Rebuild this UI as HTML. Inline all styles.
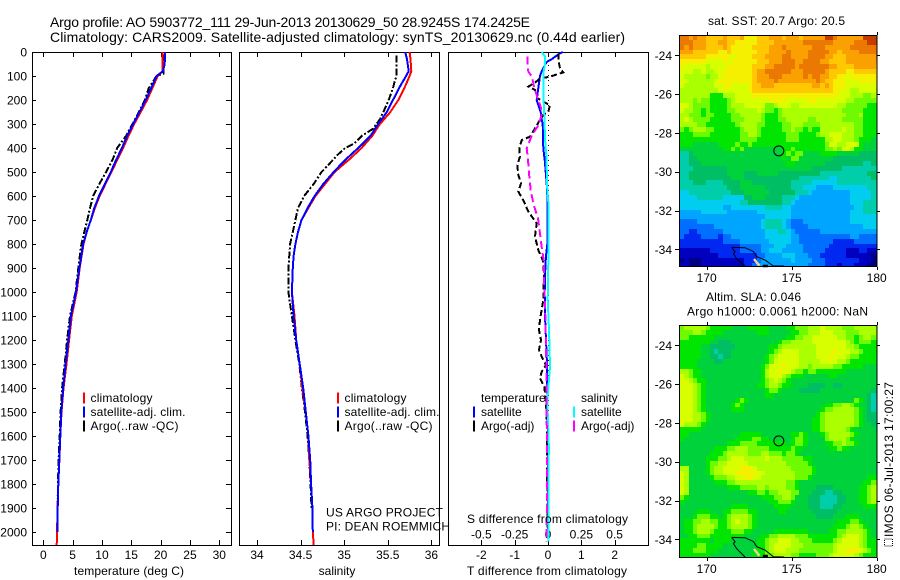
<!DOCTYPE html>
<html lang="en">
<head>
<meta charset="utf-8">
<title>Argo profile 5903772_111</title>
<style>
html,body{margin:0;padding:0;background:#fff;width:900px;height:580px;overflow:hidden}
svg{display:block}
text{font-family:"Liberation Sans",sans-serif;font-size:12px;fill:#000}
.title{font-size:14px}
</style>
</head>
<body>
<svg id="chart" xmlns="http://www.w3.org/2000/svg" width="900" height="580" viewBox="0 0 900 580">
<rect x="0" y="0" width="900" height="580" fill="#fff"/>
<text class="title" x="50" y="27" textLength="480" lengthAdjust="spacing">Argo profile: AO 5903772_111 29-Jun-2013 20130629_50 28.9245S 174.2425E</text>
<text class="title" x="50" y="42" textLength="575" lengthAdjust="spacing">Climatology: CARS2009. Satellite-adjusted climatology: synTS_20130629.nc (0.44d earlier)</text>
<g id="maps"></g>
<g id="profiles"></g>
<text x="708" y="25" textLength="137" lengthAdjust="spacing">sat. SST: 20.7 Argo: 20.5</text>
<text x="706" y="301" textLength="95" lengthAdjust="spacing">Altim. SLA: 0.046</text>
<text x="687" y="315.5" textLength="181" lengthAdjust="spacing">Argo h1000: 0.0061 h2000: NaN</text>
<text transform="translate(893,537) rotate(-90)" textLength="155" lengthAdjust="spacing">IMOS 06-Jul-2013 17:00:27</text>
<rect x="884.5" y="539" width="8" height="7" fill="none" stroke="#000" stroke-width="1" stroke-dasharray="1,1"/>
<text x="129" y="575" text-anchor="middle" textLength="110" lengthAdjust="spacing">temperature (deg C)</text>
<text x="337" y="575" text-anchor="middle">salinity</text>
<text x="547" y="575" text-anchor="middle" textLength="160" lengthAdjust="spacing">T difference from climatology</text>
<text x="547.5" y="523" text-anchor="middle" textLength="161" lengthAdjust="spacing">S difference from climatology</text>
<text x="326" y="516.5" textLength="117" lengthAdjust="spacing">US ARGO PROJECT</text>
<text x="326" y="530.5" textLength="124" lengthAdjust="spacing">PI: DEAN ROEMMICH</text>
</svg>
<script>
// ---------- profile data (depth in dbar) ----------
var tempDepths = [0,50,80,100,150,200,250,300,350,400,450,500,550,600,650,700,750,800,900,1000,1100,1200,1300,1400,1500,1600,1700,1800,1900,2000,2054];
var tempClim   = [20.35,20.35,20.3,19.5,18.6,17.7,16.6,15.5,14.5,13.6,12.6,11.6,10.6,9.6,8.8,8.1,7.4,6.85,6.2,5.7,4.85,4.4,3.95,3.45,3.1,2.9,2.75,2.55,2.42,2.35,2.28];
var tempSat    = [20.74,20.7,20.4,19.3,18.4,17.45,16.4,15.3,14.3,13.4,12.4,11.5,10.5,9.5,8.7,8.1,7.4,6.8,6.15,5.57,4.7,4.27,3.8,3.4,3.07,2.9,2.73,2.56,2.45,2.39];
var tempArgoDepths = [10,50,90,100,150,200,250,300,350,400,450,500,550,600,650,700,800,900,1000,1100,1200,1300,1400,1500,1600,1700,1800,1860];
var tempArgo   = [20.4,20.4,20.5,19.3,18.0,17.3,16.3,15.2,14.1,12.6,11.8,10.7,9.55,8.5,7.96,7.5,6.5,5.97,5.5,4.55,4.05,3.65,3.2,2.95,2.8,2.6,2.5,2.45];

var salDepths = [0,30,80,100,150,200,250,300,350,400,450,500,550,600,650,700,750,800,850,900,1000,1100,1200,1300,1400,1500,1600,1700,1800,1900,2000,2054];
var salClim   = [35.75,35.76,35.77,35.75,35.69,35.62,35.53,35.41,35.32,35.2,35.05,34.89,34.78,34.67,34.59,34.51,34.47,34.44,34.42,34.41,34.4,34.43,34.45,34.49,34.52,34.56,34.59,34.6,34.62,34.635,34.64,34.65];
var salSat    = [35.7,35.72,35.74,35.71,35.63,35.56,35.49,35.39,35.3,35.16,35.01,34.88,34.76,34.66,34.58,34.51,34.47,34.44,34.42,34.41,34.4,34.42,34.45,34.49,34.53,34.56,34.59,34.61,34.62,34.635,34.64];
var salArgoDepths = [15,100,120,150,200,250,280,320,350,380,400,430,470,500,550,600,650,700,750,800,900,1000,1050,1100,1200,1300,1400,1500,1600,1700,1800,1900];
var salArgo   = [35.6,35.6,35.58,35.56,35.51,35.45,35.41,35.33,35.2,35.12,35.01,34.92,34.82,34.74,34.65,34.54,34.47,34.44,34.41,34.38,34.36,34.36,34.38,34.4,34.44,34.485,34.515,34.55,34.58,34.6,34.615,34.625];

var diffTSatDepths = [0,10,30,40,50,80,100,150,200,220,250,280,300,400,450,500,550,600,800,850,900,1000,1100,1200,1300,1400,1500,1700,2000];
var diffTSat       = [0.44,0.31,0.11,-0.02,-0.08,-0.19,-0.24,-0.29,-0.34,-0.29,-0.22,-0.19,-0.16,-0.14,-0.1,-0.07,-0.04,-0.02,-0.02,-0.06,-0.08,-0.1,-0.09,-0.06,-0.03,-0.02,-0.01,0,0];
var diffTArgoDepths = [6,33,68,85,96,103,110,128,144,158,193,207,221,249,262,283,318,353,367,401,436,471,512,547,582,617,665,714,769,825,867,922,1033,1116,1158,1200,1241,1269,1304,1332,1359,1394,1464,1519,2000];
var diffTArgo       = [0.31,0.31,0.36,0.46,0.21,0.06,-0.24,-0.39,-0.59,-0.39,-0.31,-0.14,0.06,0.01,-0.14,-0.24,-0.39,-0.54,-0.79,-0.86,-0.84,-0.92,-0.89,-0.81,-0.89,-0.74,-0.59,-0.34,-0.39,-0.29,-0.16,-0.12,-0.14,-0.24,-0.27,-0.21,-0.27,-0.19,-0.06,-0.19,-0.24,-0.11,-0.06,-0.04,-0.01];
var diffSSatDepths = [0,19,47,89,186,228,367,436,575,644,850,1030,1170,1310,1350,1450,1650,1770,2040];
var diffSSat       = [-0.048,-0.022,-0.022,-0.035,-0.035,-0.03,-0.022,-0.012,-0.005,0.005,0.003,-0.002,0.008,0.015,0.01,-0.005,0.007,0.002,0.002];
var diffSArgoDepths = [19,54,82,103,144,193,228,262,304,346,401,450,519,575,631,693,756,811,867,978,1100,1300,1500,1700,2040];
var diffSArgo       = [-0.155,-0.155,-0.147,-0.12,-0.105,-0.078,-0.055,-0.048,-0.07,-0.12,-0.16,-0.15,-0.14,-0.13,-0.11,-0.075,-0.06,-0.048,-0.032,-0.028,-0.02,-0.012,-0.01,-0.008,-0.01];

// ---------- tick labels ----------
var depthTicks = [0,100,200,300,400,500,600,700,800,900,1000,1100,1200,1300,1400,1500,1600,1700,1800,1900,2000];
var tempTicks = [0,5,10,15,20,25,30];
var salTicks = [34,34.5,35,35.5,36];
var diffTTicks = [-2,-1,0,1,2];
var diffSTicks = [-0.5,-0.25,0,0.25,0.5];
var lonTicks = [170,175,180];
var latTicks = [-24,-26,-28,-30,-32,-34];

// ---------- map grids: one character per 0.25 degree cell, colour class from mapLevels ----------
var mapLevels = "0123456789abcdefgh";
var mapColours = ["#000082","#0000be","#0028f0","#006eff","#00a5ff","#00cdf0","#00cdaa","#00be64","#00d23c","#00e600","#6efa00","#aaff00","#d7ff00","#f5f000","#ffc800","#faa000","#eb7800","#c83c00"];
var sstGrid = [
"ggfgffeeee feeefdddee efffefffef ffffhhgfff fffhhhh",
"gggfffeeef feedddddee eefffffffg ggggggffff fggghhh",
"gfgfffeeee fedddddeee efffgfffff fgggffffff ggggggg",
"fffeeeeeed deddddddee effffgffff gggggffeff ffggggg",
"eeeeeedddd ddcddddeee ffffggffff ggggffeeef ffffffg",
"ddddddcccc dcddddddee efffgggffg gggffeeeef fffffff",
"dcccccbccc cddddddeee ffgggggfgg gggggffeee efffffe",
"cccbbcbbcc dddddddeff ggggggfffg ggggfeeeed deeeeed",
"cbbbbbabbc dddddddeff fgggfffffg fggffeeddc ddddddd",
"ccbbbbbbcd dddddddeff ffgfffffff ffgfeedddc ccddddd",
"cbbbbbbbcc ddccccdeef ffeeeeeeee effefedddc ccccccc",
"bbbbbbbbbc ccccccdeee eeeeeeeeee eeeeeeddcc bbccccb",
"bbbbbbb999 bbbccccddd dddddddddd dddddddccc bbbaabb",
"bbbabaa999 9abccccccc cddddccccc ddcccccccb baaaaab",
"ccbaaaa999 9abbbccccc aabcccbbcc cccccccbba aaaa999",
"cbbaa9a999 9aabbbbbcb aa9abbbbbb bbbbbbbbaa aaa9999",
"bbaaa9aa99 99aabbbbba 999abbbbbb bbbbbbbbba aab9999",
"bcbaaaa999 99aaabbbba 999aabbbbb aabbbbbbaa aaa9999",
"bbbbaa9999 999abbbbaa 9999aabbba aaabbbbbbb baa9999",
"a9abbbaa99 9999abbba9 9999aabaa9 a99bbbbbcb baa9999",
"999aaaa999 9999aabba9 99999aaa99 99abbcccbb baa9998",
"9999999999 9999aaaa99 99999aaa99 9999bbccbb ba99988",
"9998888889 999a99a999 9999999999 9999accbbc cc98888",
"8888888888 99a9a88888 888899a999 9999aabacc b998887",
"6678888888 8888888888 88889a9aa8 8889999888 8877777",
"6677888888 8888888888 888898aa88 8888887777 7777777",
"6677788888 8888888888 8888899888 8888777777 7776677",
"6667777777 7888888888 8888888888 8777777766 6666666",
"6677777777 7888877788 8887777777 7776666666 6666776",
"6677777777 7788877777 7777777766 6666655666 6666677",
"6667776666 7777888777 7777776666 6555555666 6666666",
"6666666666 6777888888 7777776665 5544445555 5555666",
"5566666666 6677788888 8777777666 5444444444 5555566",
"5555666666 5555577888 7777666544 4444444444 5555566",
"5555555555 5555667777 7777665444 4444444444 5556666",
"5555555555 4455555555 6666554444 4444444444 4556666",
"4444455555 5444444455 5555554444 4444444444 5556666",
"4444444444 4444444444 5555554444 4444444444 5555556",
"3333444444 4444444445 6666543334 4444444444 5555555",
"3333333344 4444444445 6666543333 4444444444 4445555",
"3322333333 4444444444 5556654333 3334444444 4444444",
"3222233332 3344444444 5555554433 3333333333 4433333",
"2222222222 3333444444 4555554433 3333332222 2333333",
"2222222222 2222333334 4455544443 3333322222 2222222",
"1111111222 2222333334 4555444443 3333222221 1122111",
"1111111112 2222222233 4444555444 3332222221 1111100",
"0100011111 1111122234 4444445444 4333222222 2211100",
"1100011111 1111122344 4444444444 3333222122 2111000"
];
var slaGrid = [
"abbbbba999 9988889999 9888899aaa bbbcbbbbaa abbbbba",
"aaabba9999 8888888899 98888899aa bbbcccbbba aabbbba",
"aa99999988 8888888888 8888899aab bccccccbba a9abbaa",
"9999999887 7788888888 8889aabbbb bccccccccb a9aaa99",
"9999988777 7778888888 899abbbbbb bbcccccccb ba99999",
"9999988767 7788888888 89abccccbb bbccccdccc bba9999",
"9999988776 7788888888 9abcccccbb bbcccdcccb aa99999",
"9999888877 8888888888 9accccccbb bbbccccbba 9999998",
"9999888888 8888888889 acccdcccbb abbbbbaa99 9998888",
"bba9988888 8888888889 bccdccbaa9 aa99999998 8888888",
"cba9988888 8888888889 bcccba9998 8888899888 8888887",
"ccba998888 8888888889 abcba98888 8888888888 8888888",
"cccba98888 8888888899 abba998888 7777887788 8888887",
"cccba98888 8888888888 9aa9888877 7778888888 8888877",
"cccba98888 8888888888 9988888888 8888888888 8888767",
"cccba98888 8889a98888 8888888888 8888888888 8a98766",
"cccba98888 889a988888 8888888888 888899aabb a988766",
"cccba98888 8899988888 8888888888 8889aabbbb ba98766",
"cccbba9888 8888888888 8888888888 889abbbbbb ba98776",
"cccbba9888 8888888888 8888888888 899abbbbbb ba98776",
"cbbba98888 8888888888 8888888888 899abbbbbb ba98877",
"9999988888 8888888888 8888888888 899abbbbba 9888887",
"9988888888 8888999998 88888899a9 8889abbbbb a988888",
"9888888888 8889999aa9 9888889aa9 8888abbbba 9888888",
"8888888888 8999aaaa99 9999989aa9 888899aaba a988888",
"8888888899 9aabbbaaaa a99999a998 8888899a99 8888888",
"8888888999 abbbbbaaab baaa9aa988 8888888888 8888888",
"888888999a abcccbbbbb cbbbaaaaa9 9888888888 8888888",
"8888889aab bcccccbbbb bbbbbaaaaa 9888888888 8888888",
"bb88889abb ccccdddcbb bbbbbbaaaa a988888888 8888888",
"cb88889abb cccdddddcc bbbbbbbaaa a988888888 8888888",
"cb888889aa abbccddccb bbbbbbbaaa 9888888888 8888999",
"cb88888899 9aabbbbbbb bbbbbaa988 8888888888 88899aa",
"cb88888888 8999aaaabb abbbbaa988 8877778888 8899abc",
"cb88888888 88888899aa 9aabbbaa88 8777667788 8899abc",
"a988888888 8888888889 99aabba888 7776666778 8899abc",
"9888888888 8888888888 899aaa9888 7776666778 8899aba",
"8888888888 8899998888 8899998888 7776667788 8889999",
"8888999888 99aaaa9988 8889988888 8777777888 8888888",
"8889aaa998 9abbbba988 8888888888 8877778889 9988888",
"899aabbaa9 9abcbba988 8888888888 8888888999 aa98888",
"899abbbba9 9abbbba988 8888888888 888888999a bba9888",
"899abbba99 99aaa99888 8899999999 8888899aab bbba988",
"8899aaa999 9999988889 9aabbbbaaa 9999999abc ccba988",
"9999999899 9988888899 abbcccbbaa a99999abcc ccba999",
"9999aa9999 8888888899 abccccbbba aaaaaabccc ccba999",
"999aaa9998 8888888899 abcccbbbaa aaaaaabccd ddcba99",
"9999999888 8888888999 aabbbbaa99 99aaabcccc cba9999"
];

// ---------- coastline (lon, lat) ----------
var coastALon = [171.47,171.67,171.57,171.76,172.25];
var coastALat = [-33.9,-34.13,-34.22,-34.48,-34.91];
var coastBLon = [171.47,172.25,172.75,172.94,173.43,173.92,174.55];
var coastBLat = [-33.9,-33.92,-34.12,-34.38,-34.55,-34.9,-34.92];
var landLon = [172.78,172.95,173.1];
var landLat = [-34.5,-34.68,-34.85];
var islandLon = [173.3,173.6];
var islandLat = [-34.86,-34.86];
var argoLon = 174.2425;
var argoLat = -28.9245;

var NS = "http://www.w3.org/2000/svg";
var profiles = document.getElementById("profiles");
var maps = document.getElementById("maps");

function makeNode(tag, parent) {
  var n = document.createElementNS(NS, tag);
  parent.appendChild(n);
  return n;
}
function put(n, a, v) { n.setAttribute(a, v); }

// axis functions
var depthY = function (d) { return 52 + 0.24 * d; };
var tempX = function (t) { return 43.3 + 5.867 * t; };
var salX = function (s) { return 257 + 87.2 * (s - 34); };
var diffTX = function (t) { return 548 + 33.33 * t; };
var diffSX = function (s) { return 548 + 133.3 * s; };

function buildPoints(depths, values, xFn) {
  var out = [];
  for (var i = 0; i < values.length; i++) {
    out.push(xFn(values[i]).toFixed(1) + "," + depthY(depths[i]).toFixed(1));
  }
  return out.join(" ");
}

function addLine(parent, x1, y1, x2, y2) {
  var l = makeNode("line", parent);
  put(l, "x1", x1); put(l, "y1", y1); put(l, "x2", x2); put(l, "y2", y2);
  put(l, "stroke", "#000"); put(l, "stroke-width", 1); put(l, "shape-rendering", "crispEdges");
  return l;
}
function addText(parent, x, y, str, anchor) {
  var t = makeNode("text", parent);
  put(t, "x", x); put(t, "y", y);
  if (anchor) put(t, "text-anchor", anchor);
  t.textContent = str;
  return t;
}
function addFrame(parent, x, y, w, h) {
  var r = makeNode("rect", parent);
  put(r, "x", x); put(r, "y", y); put(r, "width", w); put(r, "height", h);
  put(r, "fill", "none"); put(r, "stroke", "#000"); put(r, "stroke-width", 1); put(r, "shape-rendering", "crispEdges");
  return r;
}
function addSeries(parent, depths, values, xFn, colour, dash) {
  var p = makeNode("polyline", parent);
  put(p, "points", buildPoints(depths, values, xFn));
  put(p, "fill", "none"); put(p, "stroke", colour); put(p, "stroke-width", 2);
  put(p, "shape-rendering", "crispEdges");
  if (dash) put(p, "stroke-dasharray", dash);
  return p;
}
function addSwatch(parent, x, cy, colour) {
  var r = makeNode("rect", parent);
  put(r, "x", x); put(r, "y", cy - 5.5); put(r, "width", 2); put(r, "height", 11);
  put(r, "fill", colour); put(r, "shape-rendering", "crispEdges");
  return r;
}

// ---------- frames ----------
var f1 = addFrame(profiles, 32.5, 52.5, 199, 493);


var f2 = addFrame(profiles, 239.5, 52.5, 200, 493);


var f3 = addFrame(profiles, 448.5, 52.5, 200, 493);



// ---------- depth axis ----------
depthTicks.forEach(function (d) {
  var y = Math.round(depthY(d)) + 0.5;
  var lbl = addText(profiles, 27, depthY(d) + 4.5, String(d), "end");
  
  
  if (d > 0) {
    var a = addLine(profiles, 32, y, 36, y);
    
    
    var b = addLine(profiles, 226, y, 232, y);
    
    
  }
});

// ---------- x axes ----------
tempTicks.forEach(function (v) {
  var x = Math.round(tempX(v)) + 0.5;
  var t = addLine(profiles, x, 52, x, 57);
  
  
  var b = addLine(profiles, x, 540, x, 545);
  
  
  var l = addText(profiles, tempX(v), 559, String(v), "middle");
  
  
});
salTicks.forEach(function (v) {
  var x = Math.round(salX(v)) + 0.5;
  var t = addLine(profiles, x, 52, x, 57);
  
  
  var b = addLine(profiles, x, 540, x, 545);
  
  
  var l = addText(profiles, salX(v), 559, String(v), "middle");
  
  
});
diffTTicks.forEach(function (v) {
  var x = Math.round(diffTX(v)) + 0.5;
  var t = addLine(profiles, x, 52, x, 57);
  
  
  var b = addLine(profiles, x, 540, x, 545);
  
  
  var l = addText(profiles, diffTX(v), 559, String(v), "middle");
  
  
});
diffSTicks.forEach(function (v) {
  var l = addText(profiles, diffSX(v), 538.5, String(v), "middle");
  
  
});

// ---------- series ----------
var s;
s = addSeries(profiles, tempArgoDepths, tempArgo, tempX, "#000", "7,2,2,2");


s = addSeries(profiles, tempDepths, tempClim, tempX, "#ff0000");


s = addSeries(profiles, tempDepths, tempSat, tempX, "#0000ff");



s = addSeries(profiles, salArgoDepths, salArgo, salX, "#000", "7,2,2,2");


s = addSeries(profiles, salDepths, salClim, salX, "#ff0000");


s = addSeries(profiles, salDepths, salSat, salX, "#0000ff");



var zero = addLine(profiles, 548.5, 60, 548.5, 545);


put(zero, "stroke-dasharray", "1,4");

s = addSeries(profiles, diffTSatDepths, diffTSat, diffTX, "#0000ff");


s = addSeries(profiles, diffTArgoDepths, diffTArgo, diffTX, "#000", "6,3");


s = addSeries(profiles, diffSSatDepths, diffSSat, diffSX, "#00ffff");


s = addSeries(profiles, diffSArgoDepths, diffSArgo, diffSX, "#ff00ff", "8,4");



// ---------- legends ----------
var legendRows = ["climatology", "satellite-adj. clim.", "Argo(..raw -QC)"];
var legendColours = ["#ff0000", "#0000ff", "#000000"];
var legendWidths = [62, 95, 88];
legendRows.forEach(function (label, i) {
  var cy = 398 + 14 * i;
  var sw1 = addSwatch(profiles, 83, cy, legendColours[i]);
  
  
  var t1 = addText(profiles, 90.5, cy + 4, label);
  
  
  put(t1, "textLength", legendWidths[i]);
  var sw2 = addSwatch(profiles, 337, cy, legendColours[i]);
  
  
  var t2 = addText(profiles, 344.5, cy + 4, label);
  
  
  put(t2, "textLength", legendWidths[i]);
});
var dl;
dl = addText(profiles, 481, 402, "temperature");


dl = addText(profiles, 581, 402, "salinity");


dl = addText(profiles, 481, 416, "satellite");


dl = addText(profiles, 481, 430, "Argo(-adj)");


dl = addText(profiles, 581, 416, "satellite");


dl = addText(profiles, 581, 430, "Argo(-adj)");


dl = addSwatch(profiles, 473, 412, "#0000ff");


dl = addSwatch(profiles, 473, 426, "#000000");


dl = addSwatch(profiles, 573, 412, "#00ffff");


dl = addSwatch(profiles, 573, 426, "#ff00ff");



// ---------- maps ----------
var mapLeft = 679, mapRight = 877, cellDeg = 0.25, lonStart = 168.44;
var lonX = function (lon) { return 706.7 + 17 * (lon - 170); };

function drawMap(grid, top, bottom, yMinus24, prefix) {
  var latY = function (lat) { return yMinus24 + 19.4 * (-24 - lat); };
  var latStart = -24 - (top - yMinus24) / 19.4;
  var g = makeNode("g", maps);
  
  
  grid.forEach(function (rowRaw, r) {
    var row = rowRaw.replace(/ /g, "");
    var y0 = Math.round(latY(latStart - r * cellDeg));
    var y1 = Math.min(bottom, Math.round(latY(latStart - (r + 1) * cellDeg)));
    if (y1 <= y0) return;
    for (var c = 0; c < 47; c++) {
      var ch = row.charAt(Math.min(c, row.length - 1));
      var x0 = Math.round(lonX(lonStart + c * cellDeg));
      var x1 = Math.min(mapRight, Math.round(lonX(lonStart + (c + 1) * cellDeg)));
      if (x1 <= x0) continue;
      var cell = makeNode("rect", g);
      
      
      put(cell, "x", x0); put(cell, "y", y0);
      put(cell, "width", x1 - x0); put(cell, "height", y1 - y0);
      put(cell, "fill", mapColours[mapLevels.indexOf(ch)]);
      put(cell, "shape-rendering", "crispEdges");
    }
  });

  var land = makeNode("polyline", maps);
  
  
  put(land, "points", landLon.map(function (v, i) { return lonX(v).toFixed(1) + "," + latY(landLat[i]).toFixed(1); }).join(" "));
  put(land, "fill", "none"); put(land, "stroke", "#f5d28c"); put(land, "stroke-width", 2.5);

  var island = makeNode("polyline", maps);
  
  
  put(island, "points", islandLon.map(function (v, i) { return lonX(v).toFixed(1) + "," + latY(islandLat[i]).toFixed(1); }).join(" "));
  put(island, "fill", "none"); put(island, "stroke", "#000"); put(island, "stroke-width", 2.5);

  [[coastALon, coastALat], [coastBLon, coastBLat]].forEach(function (pair) {
    var coast = makeNode("polyline", maps);
    
    
    put(coast, "points", pair[0].map(function (v, i) { return lonX(v).toFixed(1) + "," + Math.min(bottom, latY(pair[1][i])).toFixed(1); }).join(" "));
    put(coast, "fill", "none"); put(coast, "stroke", "#000"); put(coast, "stroke-width", 1);
  });

  var ring = makeNode("circle", maps);
  
  
  put(ring, "cx", lonX(argoLon)); put(ring, "cy", latY(argoLat)); put(ring, "r", 5);
  put(ring, "fill", "none"); put(ring, "stroke", "#000"); put(ring, "stroke-width", 1);

  var frame = addFrame(maps, mapLeft + 0.5, top + 0.5, mapRight - mapLeft - 1 + 0.5, bottom - top);
  
  

  latTicks.forEach(function (v) {
    var y = Math.round(latY(v)) + 0.5;
    var a = addLine(maps, mapLeft - 4, y, mapLeft, y);
    
    
    var b = addLine(maps, mapRight, y, mapRight + 3, y);
    
    
    var l = addText(maps, 672, latY(v) + 4.5, String(v), "end");
    
    
  });
  lonTicks.forEach(function (v) {
    var x = Math.round(lonX(v)) + 0.5;
    var a = addLine(maps, x, top - 3, x, top);
    
    
    var b = addLine(maps, x, bottom + 1, x, bottom + 4);
    
    
    var l = addText(maps, lonX(v), bottom + 16, String(v), "middle");
    
    
  });
}
drawMap(sstGrid, 35, 266, 55.3, "sst-map");
drawMap(slaGrid, 325, 557, 345.3, "sla-map");
</script>
</body>
</html>
